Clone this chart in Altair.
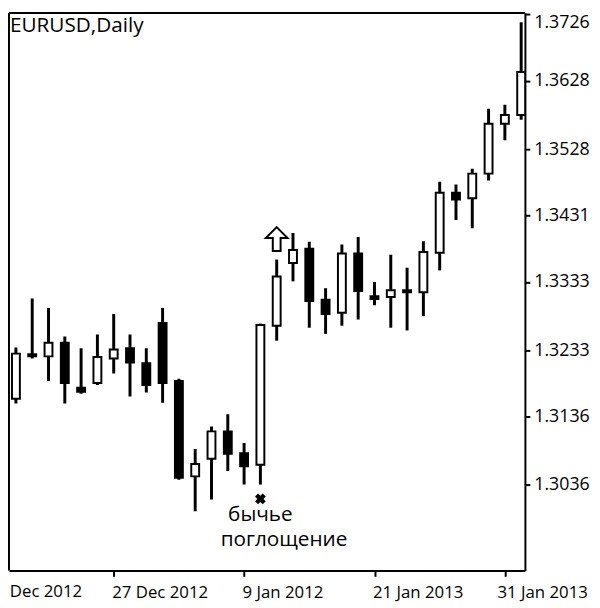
import altair as alt
import pandas as pd

# candle index (trading-day sequence) and OHLC values
idx = list(range(33))
opens = [1.3169, 1.3162, 1.3227, 1.3224, 1.3244, 1.3178, 1.3185, 1.3221, 1.3236, 1.3214, 1.3273,
         1.3188, 1.3048, 1.3074, 1.3114, 1.3082, 1.3065, 1.3269, 1.3361, 1.3382, 1.3307, 1.3288,
         1.3375, 1.3312, 1.3311, 1.3321, 1.3318, 1.3376, 1.3464, 1.3456, 1.3492, 1.3565, 1.3578]
highs = [1.3173, 1.3237, 1.3309, 1.3295, 1.3253, 1.3236, 1.3256, 1.3286, 1.3256, 1.3236, 1.3295,
         1.3191, 1.3088, 1.3121, 1.3139, 1.3097, 1.3272, 1.3366, 1.3405, 1.3392, 1.3324, 1.3388,
         1.3399, 1.3333, 1.3373, 1.3354, 1.3393, 1.3480, 1.3476, 1.3499, 1.3587, 1.3593, 1.3714]
lows = [1.3159, 1.3155, 1.3221, 1.3188, 1.3155, 1.3169, 1.3182, 1.3199, 1.3165, 1.3171, 1.3156,
        1.3043, 1.2997, 1.3014, 1.3056, 1.3036, 1.3036, 1.3247, 1.3334, 1.3266, 1.3257, 1.3269,
        1.3278, 1.3299, 1.3266, 1.3262, 1.3283, 1.3350, 1.3424, 1.3412, 1.3482, 1.3541, 1.3571]
closes = [1.3163, 1.3228, 1.3224, 1.3244, 1.3185, 1.3172, 1.3223, 1.3234, 1.3215, 1.3182, 1.3185,
          1.3046, 1.3066, 1.3114, 1.3081, 1.3063, 1.3270, 1.3341, 1.3380, 1.3305, 1.3286, 1.3375,
          1.3320, 1.3308, 1.3321, 1.3318, 1.3377, 1.3464, 1.3454, 1.3492, 1.3565, 1.3578, 1.3641]

# axis ticks
price_ticks = [1.3036, 1.3136, 1.3233, 1.3333, 1.3431, 1.3528, 1.3628, 1.3726]
date_tick_idx = [7, 15, 23, 31]
date_tick_labels = ["27 Dec 2012", "9 Jan 2012", "21 Jan 2013", "31 Jan 2013"]
first_date_idx = [-1]
first_date_label = ["17 Dec 2012"]

# annotations
title_text = "EURUSD,Daily"
signal_idx = [16]
signal_price = [1.3015]
arrow_idx = [17]
arrow_price = [1.3396]
note_lines = ["бычье", "поглощение"]
note_price = [1.2991, 1.2955]

df = pd.DataFrame({"i": idx, "open": opens, "high": highs, "low": lows, "close": closes})

label_expr = ""
for v, t in zip(date_tick_idx, date_tick_labels):
    label_expr += f"datum.value == {v} ? '{t}' : "
label_expr += "''"

FONT = "Open Sans"
W, H = 523, 565
x_scale = alt.Scale(domain=[0.575, 32.23], nice=False, zero=False, padding=0)
y_scale = alt.Scale(domain=[1.29101, 1.37275], nice=False, zero=False, padding=0)

x_enc = alt.X("i:Q", scale=x_scale,
              axis=alt.Axis(values=date_tick_idx, labelExpr=label_expr, title=None, grid=False,
                            orient="bottom", tickSize=6, tickWidth=2, tickColor="black",
                            domain=True, domainColor="black", domainWidth=2,
                            labelAlign="left", labelFlush=False, labelOverlap=False,
                            labelOffset={"condition": {"test": f"datum.value == {date_tick_idx[-1]}",
                                                       "value": -8}, "value": -2},
                            labelPadding=8, labelFontSize=17,
                            labelColor="black", labelFont=FONT))

y_axis = alt.Axis(values=price_ticks, format=".4f", title=None, grid=False, orient="right",
                  tickSize=5, tickWidth=2, tickColor="black", domain=True,
                  domainColor="black", domainWidth=2, labelPadding=4, labelFontSize=18,
                  labelColor="black", labelFont=FONT, labelOverlap=False, labelFlush=4)

base = alt.Chart(df)

wicks = base.mark_rule(color="black", strokeWidth=3, clip=True).encode(
    x=x_enc,
    y=alt.Y("low:Q", scale=y_scale, axis=y_axis),
    y2="high:Q",
)

bodies = base.mark_bar(size=8, stroke="black", strokeWidth=2, clip=True).encode(
    x=alt.X("i:Q", scale=x_scale),
    y=alt.Y("open:Q", scale=y_scale),
    y2="close:Q",
    fill=alt.condition("datum.close > datum.open", alt.value("white"), alt.value("black")),
)

# left and top frame lines
frame_left = alt.Chart(pd.DataFrame({"a": [0]})).mark_rule(color="black", strokeWidth=2).encode(
    x=alt.value(0), y=alt.value(0), y2=alt.value(H))
frame_top = alt.Chart(pd.DataFrame({"a": [0]})).mark_rule(color="black", strokeWidth=2).encode(
    x=alt.value(0), x2=alt.value(W), y=alt.value(0))

first_lab = alt.Chart(pd.DataFrame({"i": first_date_idx, "t": first_date_label})).mark_text(
    font=FONT, fontSize=17, color="black", align="left", baseline="top", dx=3, clip=False).encode(
    x=alt.X("i:Q", scale=x_scale), y=alt.value(H + 14), text="t:N")

sig_df = pd.DataFrame({"i": signal_idx, "p": signal_price})
cross = alt.Chart(sig_df).mark_point(shape="cross", angle=45, filled=True, color="black",
                                     size=120, opacity=1).encode(
    x=alt.X("i:Q", scale=x_scale),
    y=alt.Y("p:Q", scale=y_scale),
)

arr_df = pd.DataFrame({"i": arrow_idx, "p": arrow_price})
arrow_path = "M0,-1.1 L1,-0.1 L0.36,-0.1 L0.36,1.1 L-0.36,1.1 L-0.36,-0.1 L-1,-0.1 Z"
arrow = alt.Chart(arr_df).mark_point(shape=arrow_path, filled=True, fill="white",
                                     stroke="black", strokeWidth=2, size=484,
                                     opacity=1).encode(
    x=alt.X("i:Q", scale=x_scale),
    y=alt.Y("p:Q", scale=y_scale),
)

note1 = alt.Chart(pd.DataFrame({"i": signal_idx, "p": [note_price[0]], "t": [note_lines[0]]})).mark_text(
    font=FONT, fontSize=21, color="black", align="center", baseline="middle").encode(
    x=alt.X("i:Q", scale=x_scale), y=alt.Y("p:Q", scale=y_scale), text="t:N")
note2 = alt.Chart(pd.DataFrame({"i": signal_idx, "p": [note_price[1]], "t": [note_lines[1]]})).mark_text(
    font=FONT, fontSize=21, color="black", align="center", baseline="middle", dx=24).encode(
    x=alt.X("i:Q", scale=x_scale), y=alt.Y("p:Q", scale=y_scale), text="t:N")

title = alt.Chart(pd.DataFrame({"t": [title_text]})).mark_text(
    font=FONT, fontSize=21, color="black", align="left", baseline="middle").encode(
    x=alt.value(1), y=alt.value(13), text="t:N")

chart = alt.layer(wicks, bodies, frame_left, frame_top, first_lab, cross, arrow,
                  note1, note2, title).properties(
    width=W, height=H,
    autosize=alt.AutoSizeParams(type="none"),
    padding={"left": 1, "top": 1, "right": 68, "bottom": 34},
    background="white",
).configure_view(stroke="black", strokeWidth=2).configure(font=FONT)

chart.save("out.html", embed_options={"renderer": "svg", "actions": False})
